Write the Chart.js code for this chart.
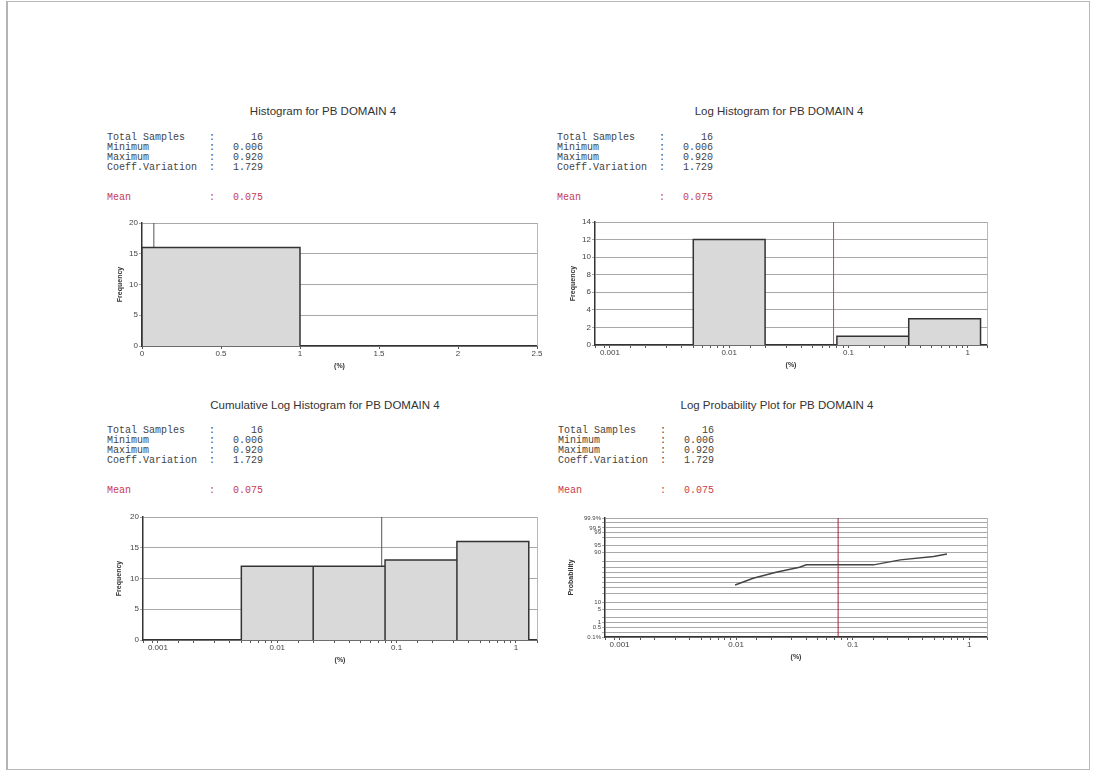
<!DOCTYPE html>
<html lang="en">
<head>
<meta charset="UTF-8" />
<title>PB DOMAIN 4</title>
<script src="https://cdn.jsdelivr.net/npm/chart.js"></script>
<style>
  body { margin: 0; width: 1094px; height: 772px; background: #fff; position: relative; overflow: hidden;
         font-family: "Liberation Sans", Arial, sans-serif; }
  .page { position: absolute; left: 6px; top: 1px; width: 1081px; height: 767px;
          border: 1px solid #b8b8b8; border-left: 2px solid #b4b4b4; }
  .title { position: absolute; font-size: 11.5px; color: #333; transform: translate(-50%, -50%); white-space: nowrap; }
  .row { position: absolute; font-family: "Liberation Mono", monospace; font-size: 10px; line-height: 10px;
         color: #444; white-space: nowrap; }
  .mean { color: #c83c50; }
  canvas { position: absolute; }
</style>
</head>
<body>
<div class="page"></div>
<canvas id="hist"></canvas>
<canvas id="logHist"></canvas>
<canvas id="cumHist"></canvas>
<canvas id="logProb"></canvas>

<script>
// titles and summary statistics
const chartTitles = [
  "Histogram for PB DOMAIN 4",
  "Log Histogram for PB DOMAIN 4",
  "Cumulative Log Histogram for PB DOMAIN 4",
  "Log Probability Plot for PB DOMAIN 4"
];
const statLabels = ["Total Samples", "Minimum", "Maximum", "Coeff.Variation"];
const statValues = ["16", "0.006", "0.920", "1.729"];
const meanLabel = "Mean";
const meanText = "0.075";
const meanValue = 0.075;

// linear histogram
const histEdges = [0, 1];
const histCounts = [16];

// log histogram bins (factor 4)
const logEdges = [0.005, 0.02, 0.08, 0.32, 1.28];
const logCounts = [12, 0, 1, 3];
const cumCounts = [12, 12, 13, 16];

// log probability plot
const probValues = [0.0098, 0.014, 0.022, 0.035, 0.040, 0.151, 0.256, 0.494, 0.644];
const probPercents = [34.7, 48.3, 60.7, 70.3, 74.4, 74.4, 82.0, 86.2, 88.8];
const probTicks = [0.1, 0.2, 0.5, 1, 2, 5, 10, 20, 30, 40, 50, 60, 70, 80, 90, 95, 98, 99, 99.5, 99.8, 99.9];
const probTickLabels = ["0.1%", "", "0.5", "1", "", "5", "10", "", "", "", "", "", "", "", "90", "95", "", "99", "99.5", "", "99.9%"];

// --- page text ---
const titlePos = [[323, 111], [779, 111], [325, 405], [777, 405]];
chartTitles.forEach((t, i) => {
  const d = document.createElement("div");
  d.className = "title";
  d.textContent = t;
  d.style.left = titlePos[i][0] + "px";
  d.style.top = titlePos[i][1] + "px";
  document.body.appendChild(d);
});

function addRow(x, y, label, value, cls) {
  [[label, x, "left"], [":", x + 102, "left"], [value, x + 156, "right"]].forEach(([txt, px, align]) => {
    const d = document.createElement("div");
    d.className = "row" + (cls ? " " + cls : "");
    d.textContent = txt;
    d.style.top = y + "px";
    if (align === "left") d.style.left = px + "px";
    else d.style.right = (1094 - px) + "px";
    document.body.appendChild(d);
  });
}
[[107, 133], [557, 133], [107, 426], [558, 426]].forEach(([x, y]) => {
  statLabels.forEach((l, i) => addRow(x, y + i * 10, l, statValues[i]));
  addRow(x, y + 60, meanLabel, meanText, "mean");
});

// --- helpers ---
function probit(p) {
  const a = [-3.969683028665376e+01, 2.209460984245205e+02, -2.759285104469687e+02, 1.383577518672690e+02, -3.066479806614716e+01, 2.506628277459239e+00];
  const b = [-5.447609879822406e+01, 1.615858368580409e+02, -1.556989798598866e+02, 6.680131188771972e+01, -1.328068155288572e+01];
  const c = [-7.784894002430293e-03, -3.223964580411365e-01, -2.400758277161838e+00, -2.549732539343734e+00, 4.374664141464968e+00, 2.938163982698783e+00];
  const d = [7.784695709041462e-03, 3.224671290700398e-01, 2.445134137142996e+00, 3.754408661907416e+00];
  const pl = 0.02425;
  let q, r;
  if (p < pl) {
    q = Math.sqrt(-2 * Math.log(p));
    return (((((c[0]*q+c[1])*q+c[2])*q+c[3])*q+c[4])*q+c[5]) / ((((d[0]*q+d[1])*q+d[2])*q+d[3])*q+1);
  }
  if (p > 1 - pl) {
    q = Math.sqrt(-2 * Math.log(1 - p));
    return -(((((c[0]*q+c[1])*q+c[2])*q+c[3])*q+c[4])*q+c[5]) / ((((d[0]*q+d[1])*q+d[2])*q+d[3])*q+1);
  }
  q = p - 0.5; r = q * q;
  return (((((a[0]*r+a[1])*r+a[2])*r+a[3])*r+a[4])*r+a[5])*q / (((((b[0]*r+b[1])*r+b[2])*r+b[3])*r+b[4])*r+1);
}

function barOutline(edges, counts) {
  const pts = [{ x: edges[0], y: 0 }];
  counts.forEach((c, i) => {
    pts.push({ x: edges[i], y: c }, { x: edges[i + 1], y: c }, { x: edges[i + 1], y: 0 });
  });
  return pts;
}

function decadeLabel(v) {
  const l = Math.log10(v);
  if (Math.abs(l - Math.round(l)) > 1e-6) return "";
  const e = Math.round(l);
  return e >= 0 ? String(Math.pow(10, e)) : Math.pow(10, e).toFixed(-e);
}

const rightEdge = {
  id: "rightEdge",
  afterDraw(chart) {
    const { ctx, chartArea: a } = chart;
    ctx.save();
    ctx.strokeStyle = "#b8b8b8";
    ctx.lineWidth = 1;
    ctx.beginPath();
    ctx.moveTo(Math.round(a.right) + 0.5, a.top);
    ctx.lineTo(Math.round(a.right) + 0.5, a.bottom);
    ctx.stroke();
    ctx.restore();
  }
};

const tickFont = { family: "Liberation Sans", size: 8 };
const titleFont = { family: "Liberation Sans", size: 7, weight: "bold" };

function xTicks(extra) {
  return Object.assign({ font: tickFont, color: "#444", padding: 0, maxRotation: 0, autoSkip: false }, extra);
}
function yTicks(extra) {
  return Object.assign({ font: tickFont, color: "#444", padding: 1, autoSkip: false }, extra);
}

function xAxis(type, extra) {
  return Object.assign({
    type: type,
    border: { color: "#333", width: 1.5 },
    grid: { drawOnChartArea: false, tickLength: 3, color: "#555" },
    ticks: xTicks({}),
    title: { display: true, text: "(%)", font: titleFont, color: "#333", padding: 0 },
    afterFit: s => { s.height = 24; }
  }, extra);
}

function yAxis(title, width, extra) {
  return Object.assign({
    type: "linear",
    border: { color: "#333", width: 1.5 },
    grid: { color: "#a8a8a8", tickLength: 3 },
    ticks: yTicks({}),
    title: { display: true, text: title, font: titleFont, color: "#333", padding: 0 },
    afterFit: s => { s.width = width; }
  }, extra);
}

function makeChart(id, plot, yWidth, datasets, scales) {
  const cv = document.getElementById(id);
  const w = plot.right - plot.left + yWidth + 10;
  const h = plot.bottom - plot.top + 10 + 24;
  cv.width = w; cv.height = h;
  cv.style.left = (plot.left - yWidth) + "px";
  cv.style.top = (plot.top - 10) + "px";
  return new Chart(cv.getContext("2d"), {
    type: "line",
    data: { datasets: datasets },
    options: {
      responsive: false,
      animation: false,
      layout: { padding: { left: 0, top: 10, right: 10, bottom: 0 } },
      plugins: { legend: { display: false }, tooltip: { enabled: false } },
      elements: { point: { radius: 0 }, line: { tension: 0 } },
      scales: scales
    },
    plugins: [rightEdge]
  });
}

function barsDataset(edges, counts) {
  return {
    data: barOutline(edges, counts),
    borderColor: "#333",
    borderWidth: 1.5,
    backgroundColor: "#d9d9d9",
    fill: "origin",
    order: 1
  };
}

function meanDataset(top, color) {
  return {
    data: [{ x: meanValue, y: 0 }, { x: meanValue, y: top }],
    borderColor: color,
    borderWidth: 1,
    fill: false,
    order: 2
  };
}

// Histogram
makeChart("hist", { left: 142, top: 223, right: 537, bottom: 346 }, 26,
  [barsDataset(histEdges, histCounts), meanDataset(20, "#555")],
  {
    x: xAxis("linear", { min: 0, max: 2.5, ticks: xTicks({ stepSize: 0.5, callback: v => String(v) }) }),
    y: yAxis("Frequency", 26, { min: 0, max: 20, ticks: yTicks({ stepSize: 5 }) })
  });

// Log histogram
makeChart("logHist", { left: 595, top: 222, right: 987, bottom: 345 }, 26,
  [barsDataset(logEdges, logCounts), meanDataset(14, "#c8405a")],
  {
    x: xAxis("logarithmic", { min: 0.00075, max: 1.45, ticks: xTicks({ callback: v => decadeLabel(v) }) }),
    y: yAxis("Frequency", 26, { min: 0, max: 14, ticks: yTicks({ stepSize: 2 }) })
  });

// Cumulative log histogram
makeChart("cumHist", { left: 143, top: 517, right: 537, bottom: 640 }, 28,
  [barsDataset(logEdges, cumCounts), meanDataset(20, "#555")],
  {
    x: xAxis("logarithmic", { min: 0.00075, max: 1.5, ticks: xTicks({ callback: v => decadeLabel(v) }) }),
    y: yAxis("Frequency", 28, { min: 0, max: 20, ticks: yTicks({ stepSize: 5 }) })
  });

// Log probability plot
const zMin = probit(probTicks[0] / 100);
const zMax = probit(probTicks[probTicks.length - 1] / 100);
makeChart("logProb", { left: 605, top: 518, right: 987, bottom: 637 }, 38,
  [
    {
      data: probValues.map((v, i) => ({ x: v, y: probit(probPercents[i] / 100) })),
      borderColor: "#444",
      borderWidth: 1.5,
      fill: false,
      order: 1
    },
    {
      data: [{ x: meanValue, y: zMin }, { x: meanValue, y: zMax }],
      borderColor: "#a02035",
      borderWidth: 1,
      fill: false,
      order: 2
    }
  ],
  {
    x: xAxis("logarithmic", { min: 0.00075, max: 1.42, ticks: xTicks({ callback: v => decadeLabel(v) }) }),
    y: yAxis("Probability", 38, {
      min: zMin, max: zMax,
      afterBuildTicks: s => { s.ticks = probTicks.map(p => ({ value: probit(p / 100) })); },
      ticks: yTicks({ font: { family: "Liberation Sans", size: 6 }, callback: (v, i) => probTickLabels[i] })
    })
  });
</script>
</body>
</html>
